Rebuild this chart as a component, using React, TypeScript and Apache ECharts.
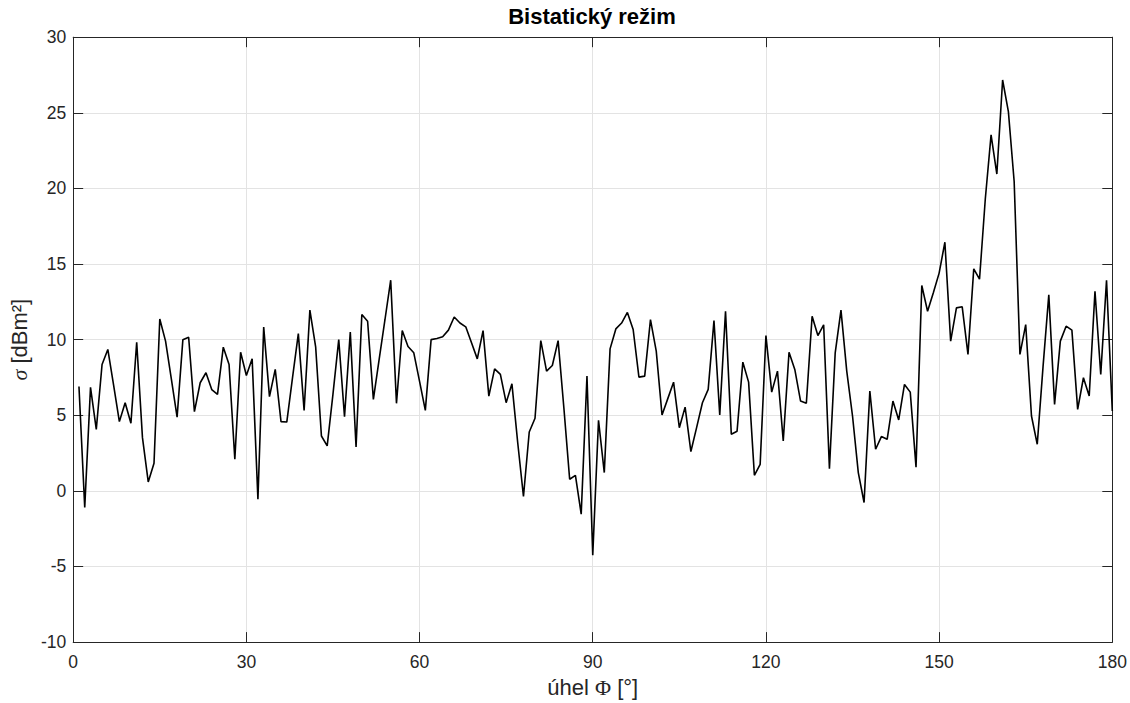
import React, { useEffect, useRef } from "react";
import * as echarts from "echarts";

const titleText = "Bistatický režim";
const xName = "úhel {g|Φ} [°]";
const yName = "{s|σ} [dBm²]";
const xTicks = { min: 0, max: 180, interval: 30 };
const yTicks = { min: -10, max: 30, interval: 5 };

const angles: number[] = Array.from({ length: 180 }, (_, i) => i + 1);

const sigma: number[] = [
  6.9, -1.1, 6.85, 4.07, 8.36, 9.35, 7.0, 4.58, 5.83, 4.47,
  9.83, 3.52, 0.59, 1.83, 11.37, 9.9, 7.4, 4.88, 10.0, 10.16,
  5.24, 7.15, 7.81, 6.7, 6.38, 9.5, 8.36, 2.09, 9.17, 7.63,
  8.73, -0.55, 10.83, 6.23, 8.03, 4.58, 4.55, 7.5, 10.4, 5.32,
  11.95, 9.53, 3.63, 2.97, 6.4, 10.0, 4.9, 10.5, 2.9, 11.66,
  11.22, 6.05, 8.7, 11.3, 13.93, 5.79, 10.6, 9.55, 9.13, 7.24,
  5.32, 10.0, 10.08, 10.19, 10.63, 11.5, 11.1, 10.85, 9.79, 8.73,
  10.6, 6.27, 8.07, 7.7, 5.83, 7.08, 3.2, -0.37, 3.89, 4.8,
  9.94, 7.92, 8.29, 9.94, 5.48, 0.77, 1.03, -1.54, 7.59, -4.25,
  4.66, 1.21, 9.39, 10.71, 11.1, 11.8, 10.67, 7.52, 7.59, 11.33,
  9.24, 5.02, 6.1, 7.19, 4.18, 5.54, 2.6, 4.2, 5.83, 6.71,
  11.26, 5.02, 11.88, 3.74, 3.94, 8.51, 7.19, 1.03, 1.76, 10.27,
  6.53, 7.92, 3.3, 9.17, 8.03, 5.94, 5.79, 11.55, 10.27, 10.98,
  1.47, 9.13, 11.95, 7.92, 4.95, 1.21, -0.77, 6.6, 2.75, 3.59,
  3.41, 5.94, 4.69, 7.04, 6.53, 1.57, 13.58, 11.88, 13.1, 14.4,
  16.44, 9.9, 12.1, 12.17, 9.02, 14.68, 14.0, 19.3, 23.54, 20.95,
  27.17, 25.08, 20.46, 9.02, 11.0, 4.95, 3.08, 8.2, 12.96, 5.72,
  9.9, 10.89, 10.63, 5.39, 7.48, 6.27, 13.2, 7.7, 13.93, 5.28,
];

const FONT = "'Liberation Sans', Arial, Helvetica, sans-serif";
const SERIF = "'Liberation Serif', 'DejaVu Serif', serif";
const TXT = "#262626";
const GRID = "#e3e3e3";

export default function App() {
  const ref = useRef<HTMLDivElement>(null);
  useEffect(() => {
    if (!ref.current) return;
    const chart = echarts.init(ref.current, undefined, { renderer: "svg" });
    const axisLine = { show: true, onZero: false, lineStyle: { color: TXT, width: 1 } };
    const axisTick = { show: true, inside: true, length: 10, lineStyle: { color: TXT, width: 1 } };
    chart.setOption({
      animation: false,
      backgroundColor: "#ffffff",
      title: {
        text: titleText,
        left: 592,
        top: 5,
        padding: 0,
        textAlign: "center",
        textStyle: { fontFamily: FONT, fontWeight: "bold", fontSize: 22, color: "#000" },
      },
      grid: { left: 72.4, right: 17.7, top: 37.2, bottom: 59.8, containLabel: false },
      xAxis: [
        {
          type: "value",
          position: "bottom",
          min: xTicks.min,
          max: xTicks.max,
          interval: xTicks.interval,
          name: xName,
          nameLocation: "middle",
          nameGap: 33,
          nameTextStyle: {
            fontFamily: FONT,
            fontSize: 22,
            color: TXT,
            rich: { g: { fontFamily: SERIF, fontSize: 22, color: TXT } },
          },
          axisLine,
          axisTick,
          axisLabel: { fontFamily: FONT, fontSize: 17.5, color: TXT, margin: 11, showMinLabel: true, showMaxLabel: true },
          splitLine: { show: true, lineStyle: { color: GRID, width: 1 } },
        },
        {
          type: "value",
          position: "top",
          min: xTicks.min,
          max: xTicks.max,
          interval: xTicks.interval,
          axisLine,
          axisTick,
          axisLabel: { show: false },
          splitLine: { show: false },
        },
      ],
      yAxis: [
        {
          type: "value",
          position: "left",
          min: yTicks.min,
          max: yTicks.max,
          interval: yTicks.interval,
          name: yName,
          nameLocation: "middle",
          nameGap: 34,
          nameTextStyle: {
            fontFamily: FONT,
            fontSize: 22,
            color: TXT,
            rich: { s: { fontFamily: SERIF, fontStyle: "italic", fontSize: 22, color: TXT } },
          },
          axisLine,
          axisTick,
          axisLabel: { fontFamily: FONT, fontSize: 17.5, color: TXT, margin: 7, showMinLabel: true, showMaxLabel: true },
          splitLine: { show: true, lineStyle: { color: GRID, width: 1 } },
        },
        {
          type: "value",
          position: "right",
          min: yTicks.min,
          max: yTicks.max,
          interval: yTicks.interval,
          axisLine,
          axisTick,
          axisLabel: { show: false },
          splitLine: { show: false },
        },
      ],
      series: [
        {
          type: "line",
          xAxisIndex: 0,
          yAxisIndex: 0,
          data: angles.map((a, i) => [a, sigma[i]]),
          symbol: "none",
          lineStyle: { color: "#000000", width: 1.6 },
          clip: true,
        },
      ],
    });
    return () => chart.dispose();
  }, []);
  return (
    <div
      ref={ref}
      style={{ position: "fixed", left: 0, top: 0, width: 1130, height: 703 }}
    />
  );
}
